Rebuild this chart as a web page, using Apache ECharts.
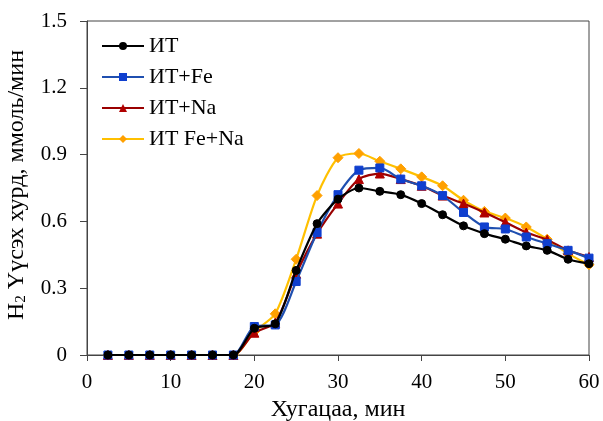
<!DOCTYPE html>
<html><head><meta charset="utf-8">
<script src="https://cdn.jsdelivr.net/npm/echarts@6/dist/echarts.min.js"></script>
<style>html,body{margin:0;padding:0;background:#fff}#c{width:603px;height:421px}</style>
</head><body><div id="c"></div>
<script>
var times = [2.5,5,7.5,10,12.5,15,17.5,20,22.5,25,27.5,30,32.5,35,37.5,40,42.5,45,47.5,50,52.5,55,57.5,60];
var seriesNames = ['ИТ','ИТ+Fe','ИТ+Na','ИТ Fe+Na'];
var valsIT     = [0,0,0,0,0,0,0,0.12,0.14,0.38,0.59,0.70,0.75,0.735,0.72,0.68,0.63,0.58,0.545,0.52,0.49,0.47,0.43,0.41];
var valsFe     = [0,0,0,0,0,0,0,0.128,0.135,0.33,0.55,0.72,0.83,0.84,0.79,0.76,0.716,0.64,0.575,0.566,0.53,0.50,0.47,0.435];
var valsNa     = [0,0,0,0,0,0,0,0.10,0.145,0.365,0.545,0.68,0.79,0.815,0.79,0.76,0.716,0.68,0.64,0.596,0.55,0.518,0.47,0.44];
var valsFeNa   = [0,0,0,0,0,0,0,0.105,0.185,0.43,0.716,0.886,0.905,0.87,0.836,0.80,0.76,0.695,0.645,0.615,0.575,0.52,0.455,0.405];
var xTicks = [0,10,20,30,40,50,60];
var yTicks = [0,0.3,0.6,0.9,1.2,1.5];

function pairs(v){ return times.map(function(t,i){ return [t, v[i]]; }); }
var font = '"Liberation Serif","Times New Roman",serif';
var styles = [
  {line:'#000000', mark:'#000000', symbol:'circle', size:8},
  {line:'#1f4fb0', mark:'#0f3fcf', symbol:'rect', size:8},
  {line:'#9a0000', mark:'#b00000', symbol:'triangle', size:9},
  {line:'#ffc000', mark:'#ffa000', symbol:'diamond', size:10}
];
var allVals = [valsIT, valsFe, valsNa, valsFeNa];
var series = seriesNames.map(function(n,i){
  var s = styles[i];
  return {
    name:n, type:'line', data:pairs(allVals[i]), smooth:0.25,
    symbol:s.symbol, symbolSize:s.size, showSymbol:true,
    lineStyle:{color:s.line, width:2.2},
    itemStyle:{color:s.mark, borderColor:s.mark},
    z: 10 - i
  };
});
var chart = echarts.init(document.getElementById('c'), null, {renderer:'canvas'});
chart.setOption({
  animation:false,
  backgroundColor:'#fff',
  grid:{left:87, right:14, top:21, bottom:66, containLabel:false, outerBoundsMode:'none',
        show:true, borderColor:'#444', borderWidth:1, backgroundColor:'transparent'},
  legend:{
    orient:'vertical', left:96, top:30, itemWidth:42, itemHeight:10, itemGap:9,
    data:seriesNames,
    textStyle:{fontFamily:font, fontSize:22, color:'#000'}
  },
  xAxis:{
    type:'value', min:xTicks[0], max:xTicks[xTicks.length-1], interval:10,
    name:'Хугацаа, мин', nameLocation:'middle', nameGap:43,
    nameTextStyle:{fontFamily:font, fontSize:24, color:'#000'},
    axisLine:{show:true, lineStyle:{color:'#444'}},
    axisTick:{show:true, inside:false, length:6, lineStyle:{color:'#444'}},
    axisLabel:{fontFamily:font, fontSize:21, color:'#000', margin:17},
    splitLine:{show:false}
  },
  yAxis:{
    type:'value', min:yTicks[0], max:yTicks[yTicks.length-1], interval:0.3,
    name:'{a|H}{s|2}{a| Үүсэх хурд, ммоль/мин}', nameLocation:'middle', nameGap:58,
    nameTextStyle:{fontFamily:font, fontSize:24, color:'#000', padding:[0,0,0,6],
      rich:{a:{fontFamily:font, fontSize:24, color:'#000', lineHeight:26, verticalAlign:'bottom'},
            s:{fontFamily:font, fontSize:15, color:'#000', lineHeight:15, verticalAlign:'bottom'}}},
    axisLine:{show:true, lineStyle:{color:'#444'}},
    axisTick:{show:true, inside:false, length:7, lineStyle:{color:'#444'}},
    axisLabel:{fontFamily:font, fontSize:21, color:'#000', margin:20,
      formatter:function(v){ return v===0 ? '0' : v.toFixed(1); }},
    splitLine:{show:false}
  },
  series:series
});
</script></body></html>
